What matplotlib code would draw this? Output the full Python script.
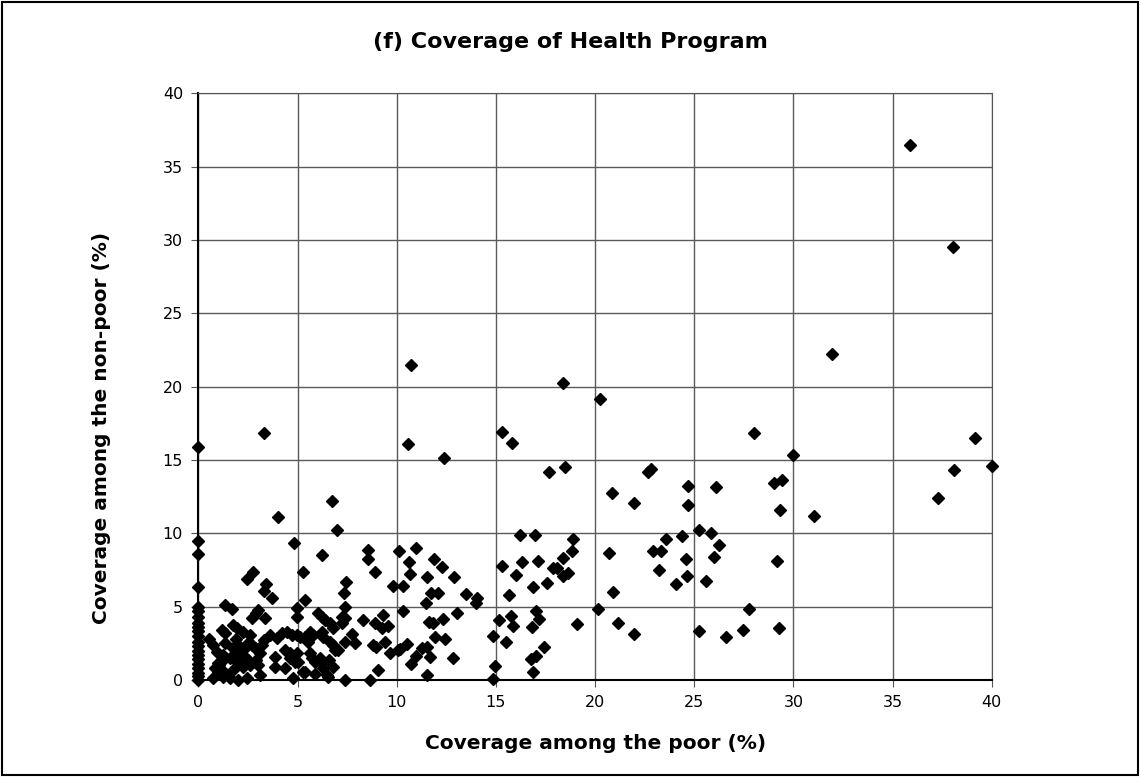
import matplotlib.pyplot as plt
from matplotlib.patches import Rectangle

# coverage among the poor (%) / among the non-poor (%)
poor_zero_col = [0, 0.25, 0.5, 0.8, 1.1, 1.4, 1.7, 2.0, 2.3, 2.6, 3.0, 3.3,
                 3.6, 3.9, 4.3, 4.7, 5.0, 6.3, 8.6, 9.5, 15.9]

low_pts = [
    (0.55, 2.8), (0.75, 2.35), (1.34, 5.1), (1.72, 4.8), (1.17, 3.41), (1.34, 3.18),
    (1.76, 3.75), (1.93, 3.52), (2.26, 3.29), (1.34, 2.5), (1.89, 2.77), (2.6, 3.07),
    (2.51, 2.5), (2.68, 2.39), (2.09, 2.23), (2.26, 2.05), (1.76, 2.16), (2.01, 1.82),
    (0.92, 1.93), (1.25, 1.7), (1.59, 1.48), (1.25, 1.36), (1.05, 1.02), (2.01, 1.14),
    (2.26, 0.91), (2.34, 1.59), (2.51, 1.36), (2.6, 1.02), (2.85, 2.16), (3.1, 1.82),
    (2.93, 1.36), (3.02, 1.02), (3.86, 0.91), (3.86, 1.59), (4.36, 0.8), (4.36, 2.05),
    (4.61, 1.82), (4.61, 1.48), (4.87, 1.25), (4.95, 1.82), (3.1, 0.34), (2.43, 0.11),
    (1.59, 0.11), (1.25, 0.23), (0.75, 0.11), (1.0, 0.57), (1.76, 0.68), (1.17, 0.68),
    (1.5, 0.34), (2.0, 0.0), (0.83, 0.8), (1.0, 1.14), (4.78, 0.11), (5.29, 0.57),
    (5.87, 0.4), (6.47, 0.34), (6.55, 0.23), (2.93, 4.55), (2.68, 4.2), (3.35, 4.2),
    (3.0, 4.75), (3.6, 3.07), (3.94, 2.84), (4.2, 3.18), (4.45, 3.29), (4.7, 3.07),
    (3.3, 2.73), (3.19, 2.39), (4.95, 4.89), (4.95, 4.32), (6.04, 4.55), (6.21, 4.32),
    (6.38, 4.09), (6.63, 3.86), (6.8, 3.52), (7.22, 4.32), (7.39, 4.2), (7.22, 3.86),
    (7.39, 4.95), (8.31, 4.09), (8.9, 3.86), (9.24, 3.52), (9.32, 4.43), (9.57, 3.68),
    (4.95, 3.07), (5.12, 2.95), (5.62, 3.29), (5.79, 3.07), (6.21, 3.29), (6.3, 2.95),
    (5.54, 2.61), (5.37, 2.95), (6.63, 2.61), (6.8, 2.39), (6.88, 2.05), (7.05, 2.05),
    (7.73, 3.1), (7.89, 2.5), (7.4, 2.6), (8.82, 2.39), (8.98, 2.27), (9.4, 2.61),
    (9.66, 1.82), (10.08, 2.05), (5.03, 1.25), (5.62, 1.82), (5.71, 1.48), (5.87, 1.25),
    (6.13, 1.48), (6.21, 1.14), (6.3, 0.8), (6.6, 1.36), (6.8, 0.91), (5.37, 0.57),
    (7.39, 0.0), (8.65, 0.0), (9.07, 0.68), (10.33, 4.73), (11.46, 5.23), (11.64, 3.98),
    (11.84, 3.86), (12.35, 4.14), (13.05, 4.59), (11.93, 2.95), (12.43, 2.77), (10.5, 2.45),
    (10.16, 2.09), (11.26, 2.2), (11.54, 2.23), (10.95, 1.64), (11.67, 1.59), (10.72, 1.09),
    (12.85, 1.48), (11.54, 0.34),
]

mid_pts = [
    (2.76, 7.38), (2.43, 6.88), (3.4, 6.52), (3.3, 6.07), (3.69, 5.57), (5.29, 7.38),
    (5.37, 5.45), (7.42, 6.68), (7.35, 5.95), (8.92, 7.38), (9.8, 6.41), (10.3, 6.41),
    (4.82, 9.32), (6.23, 8.5), (8.56, 8.86), (8.53, 8.23), (10.13, 8.77), (10.97, 9.02),
    (10.6, 8.02), (11.9, 8.25), (12.3, 7.72), (10.67, 7.23), (11.54, 7.04), (12.88, 7.04),
    (11.72, 5.91), (12.06, 5.91), (13.49, 5.84), (14.03, 5.61), (13.99, 5.27),
    (6.72, 12.22), (3.99, 11.09), (6.97, 10.22),
    (3.3, 16.86), (10.58, 16.09), (12.4, 15.1), (10.72, 21.5),
    (15.32, 16.93), (15.8, 16.18), (17.69, 14.2), (18.5, 14.5), (18.4, 20.27), (20.25, 19.13),
    (16.2, 9.88), (16.97, 9.86), (18.9, 9.6), (18.82, 8.79), (18.4, 8.34), (16.33, 8.07),
    (17.1, 8.13), (15.32, 7.77), (17.86, 7.6), (18.1, 7.65), (18.4, 7.11), (18.62, 7.31),
    (16.0, 7.16), (16.88, 6.32), (17.56, 6.59), (15.67, 5.79), (15.14, 4.09), (15.74, 4.36),
    (15.84, 3.7), (17.02, 4.72), (17.19, 4.16), (16.8, 3.59), (19.07, 3.8), (14.87, 3.0),
    (15.51, 2.61), (17.42, 2.27), (16.75, 1.43), (17.0, 1.64), (14.97, 0.95), (16.85, 0.57),
    (14.87, 0.07),
]

high_pts = [
    (28.0, 16.86), (30.0, 15.34), (39.16, 16.5), (40.0, 14.6), (38.1, 14.34), (37.3, 12.43),
    (22.68, 14.2), (22.8, 14.36), (20.84, 12.77), (21.95, 12.09), (24.7, 13.25), (24.7, 11.9),
    (26.1, 13.13), (29.02, 13.45), (29.4, 13.63), (29.32, 11.59), (31.04, 11.2), (25.22, 10.22),
    (25.85, 10.04), (26.23, 9.2), (26.0, 8.38), (24.4, 9.79), (23.6, 9.63), (22.9, 8.79),
    (23.3, 8.77), (24.6, 8.23), (23.2, 7.5), (24.65, 7.11), (24.1, 6.52), (25.6, 6.77),
    (20.7, 8.63), (20.9, 6.02), (29.16, 8.13), (27.74, 4.86), (25.24, 3.36), (26.6, 2.89),
    (27.44, 3.41), (29.27, 3.57), (21.17, 3.88), (21.95, 3.13), (20.15, 4.86),
    (35.88, 36.47), (38.03, 29.5), (31.93, 22.2),
]

poor = [0.0] * len(poor_zero_col) + [p[0] for p in low_pts + mid_pts + high_pts]
nonpoor = poor_zero_col + [p[1] for p in low_pts + mid_pts + high_pts]

fig = plt.figure(figsize=(11.4, 7.77), dpi=100)
ax = fig.add_axes([0.174, 0.125, 0.696, 0.755])

ax.plot(poor, nonpoor, linestyle='none', marker='D', ms=5.8, color='black',
        clip_on=False, zorder=3)

ax.set_xlim(0, 40)
ax.set_ylim(0, 40)
ax.set_xticks(range(0, 41, 5))
ax.set_yticks(range(0, 41, 5))
ax.grid(True, color='#5a5a5a', linewidth=1.0)
ax.set_axisbelow(True)
for s in ax.spines.values():
    s.set_color('#555555')
ax.spines['left'].set_color('black')
ax.spines['bottom'].set_color('black')
ax.spines['left'].set_linewidth(1.5)
ax.spines['bottom'].set_linewidth(1.5)
ax.tick_params(labelsize=11.5, length=5, color='#555555', pad=6)

ax.set_xlabel('Coverage among the poor (%)', fontsize=14.5, fontweight='bold', labelpad=17)
ax.set_ylabel('Coverage among the non-poor (%)', fontsize=14.5, fontweight='bold')
ax.yaxis.set_label_coords(-0.11, 0.43)
fig.text(0.5, 0.946, '(f) Coverage of Health Program', ha='center', va='center',
         fontsize=16, fontweight='bold')

fig.patches.append(Rectangle((0.002, 0.002), 0.996, 0.996, transform=fig.transFigure,
                             fill=False, edgecolor='black', linewidth=1.5))

fig.savefig('out.png', dpi=100)
